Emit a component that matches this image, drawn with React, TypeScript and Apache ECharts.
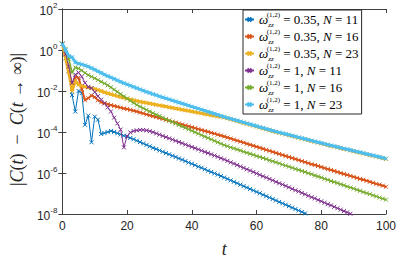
import React, { useEffect, useRef } from "react";
import * as echarts from "echarts";

// time axis samples
const times = [
  0, 1, 2, 3, 4, 5, 6, 7, 8, 9, 10, 11, 12, 13, 14, 15, 16, 17, 18, 19, 20,
  21, 22, 23, 24, 25, 26, 27, 28, 29, 30, 31, 32, 33, 34, 35, 36, 37, 38, 39, 40,
  41, 42, 43, 44, 45, 46, 47, 48, 49, 50, 51, 52, 53, 54, 55, 56, 57, 58, 59, 60,
  61, 62, 63, 64, 65, 66, 67, 68, 69, 70, 71, 72, 73, 74, 75, 76, 77, 78, 79, 80,
  81, 82, 83, 84, 85, 86, 87, 88, 89, 90, 91, 92, 93, 94, 95, 96, 97, 98, 99, 100,
];

// log10 |C(t) - C(inf)|, one value per time sample
const log10_w035_N11 = [
  0.3, -0.4, -1.0, -2.2, -3.0, -2.0, -2.1, -3.65, -3.2, -4.5, -3.25,
  -3.4, -4.1, -4.05, -4.0, -3.95, -4.0, -4.06, -4.12, -4.18, -4.23,
  -4.29, -4.35, -4.42, -4.49, -4.56, -4.63, -4.7, -4.77, -4.83, -4.9,
  -4.96, -5.03, -5.09, -5.16, -5.22, -5.29, -5.35, -5.42, -5.49, -5.55,
  -5.62, -5.69, -5.75, -5.82, -5.89, -5.95, -6.02, -6.08, -6.15, -6.22,
  -6.29, -6.36, -6.43, -6.5, -6.57, -6.64, -6.71, -6.78, -6.85, -6.92,
  -6.99, -7.06, -7.13, -7.2, -7.27, -7.34, -7.41, -7.48, -7.55, -7.62,
  -7.69, -7.76, -7.83, -7.9, -7.97, -8.04, -8.11,
];

const log10_w035_N16 = [
  0.3, -0.2, -1.0, -1.9, -1.3, -1.35, -1.9, -2.45, -2.35, -2.22, -2.3,
  -2.45, -2.55, -2.6, -2.65, -2.69, -2.73, -2.77, -2.81, -2.85, -2.88,
  -2.92, -2.96, -3.0, -3.05, -3.09, -3.14, -3.18, -3.23, -3.27, -3.32,
  -3.36, -3.41, -3.45, -3.5, -3.54, -3.59, -3.63, -3.68, -3.72, -3.77,
  -3.81, -3.86, -3.9, -3.95, -3.99, -4.04, -4.08, -4.13, -4.17, -4.22,
  -4.27, -4.32, -4.37, -4.42, -4.47, -4.52, -4.57, -4.62, -4.67, -4.72,
  -4.77, -4.82, -4.87, -4.92, -4.97, -5.02, -5.07, -5.12, -5.17, -5.22,
  -5.27, -5.32, -5.37, -5.42, -5.47, -5.52, -5.57, -5.61, -5.66, -5.71,
  -5.76, -5.81, -5.85, -5.9, -5.95, -6.0, -6.05, -6.09, -6.14, -6.19,
  -6.24, -6.29, -6.33, -6.38, -6.43, -6.48, -6.53, -6.57, -6.62, -6.67,
];

const log10_w035_N23 = [
  0.3, -0.4, -1.1, -2.0, -1.5, -1.7, -1.75, -1.8, -1.83, -1.86, -1.9,
  -1.95, -2.0, -2.06, -2.11, -2.16, -2.2, -2.25, -2.29, -2.33, -2.37,
  -2.41, -2.45, -2.49, -2.52, -2.55, -2.58, -2.61, -2.64, -2.67, -2.7,
  -2.73, -2.76, -2.79, -2.82, -2.85, -2.88, -2.91, -2.94, -2.97, -3.0,
  -3.03, -3.06, -3.09, -3.12, -3.15, -3.18, -3.21, -3.24, -3.26, -3.29,
  -3.33, -3.38, -3.42, -3.47, -3.51, -3.56, -3.6, -3.65, -3.69, -3.74,
  -3.78, -3.83, -3.87, -3.92, -3.96, -4.0, -4.04, -4.08, -4.12, -4.16,
  -4.2, -4.24, -4.28, -4.32, -4.36, -4.4, -4.44, -4.48, -4.52, -4.56,
  -4.6, -4.64, -4.68, -4.71, -4.75, -4.79, -4.83, -4.86, -4.9, -4.94,
  -4.98, -5.01, -5.05, -5.09, -5.13, -5.16, -5.2, -5.24, -5.28, -5.32,
];

const log10_w1_N11 = [
  0.3, -0.2, -0.8, -1.6, -1.2, -1.1, -1.3, -1.6, -1.8, -1.86, -2.05,
  -2.25, -2.42, -2.6, -2.8, -3.0, -3.3, -3.58, -3.88, -4.75, -4.2,
  -4.02, -3.95, -3.92, -3.9, -3.9, -3.92, -3.96, -4.01, -4.07, -4.13,
  -4.19, -4.25, -4.31, -4.37, -4.43, -4.49, -4.55, -4.61, -4.67, -4.73,
  -4.79, -4.85, -4.91, -4.97, -5.03, -5.09, -5.15, -5.21, -5.28, -5.34,
  -5.41, -5.48, -5.54, -5.61, -5.68, -5.75, -5.82, -5.88, -5.95, -6.02,
  -6.09, -6.16, -6.22, -6.29, -6.36, -6.43, -6.5, -6.56, -6.63, -6.7,
  -6.77, -6.84, -6.9, -6.97, -7.04, -7.11, -7.18, -7.24, -7.31, -7.38,
  -7.45, -7.52, -7.58, -7.65, -7.72, -7.79, -7.86, -7.92, -7.99, -8.06,
];

const log10_w1_N16 = [
  0.3, 0.05, -0.45, -1.1, -0.85, -0.9, -1.0, -1.12, -1.22, -1.3, -1.38,
  -1.46, -1.55, -1.63, -1.72, -1.82, -1.93, -2.04, -2.15, -2.26, -2.37,
  -2.47, -2.58, -2.68, -2.76, -2.84, -2.92, -3.0, -3.08, -3.15, -3.22,
  -3.3, -3.37, -3.44, -3.51, -3.58, -3.66, -3.73, -3.8, -3.87, -3.94,
  -4.01, -4.08, -4.15, -4.22, -4.29, -4.36, -4.43, -4.5, -4.57, -4.64,
  -4.69, -4.75, -4.8, -4.85, -4.9, -4.96, -5.01, -5.06, -5.11, -5.17,
  -5.22, -5.27, -5.32, -5.38, -5.43, -5.48, -5.53, -5.59, -5.64, -5.69,
  -5.74, -5.8, -5.85, -5.9, -5.95, -6.01, -6.06, -6.12, -6.17, -6.22,
  -6.28, -6.33, -6.39, -6.44, -6.49, -6.55, -6.6, -6.66, -6.71, -6.76,
  -6.82, -6.87, -6.93, -6.98, -7.03, -7.09, -7.14, -7.2, -7.25, -7.3,
];

const log10_w1_N23 = [
  0.3, 0.0, -0.3, -0.35, -0.6, -0.66, -0.7, -0.75, -0.81, -0.88, -0.96,
  -1.04, -1.12, -1.2, -1.27, -1.34, -1.41, -1.48, -1.55, -1.62, -1.68,
  -1.74, -1.8, -1.86, -1.92, -1.98, -2.04, -2.09, -2.15, -2.2, -2.26,
  -2.31, -2.36, -2.41, -2.46, -2.51, -2.56, -2.61, -2.66, -2.71, -2.76,
  -2.81, -2.86, -2.91, -2.96, -3.01, -3.06, -3.11, -3.16, -3.21, -3.26,
  -3.31, -3.35, -3.4, -3.44, -3.49, -3.53, -3.58, -3.62, -3.67, -3.71,
  -3.76, -3.8, -3.85, -3.89, -3.94, -3.98, -4.02, -4.06, -4.1, -4.14,
  -4.18, -4.22, -4.26, -4.3, -4.34, -4.38, -4.42, -4.46, -4.5, -4.54,
  -4.58, -4.62, -4.66, -4.69, -4.73, -4.77, -4.81, -4.84, -4.88, -4.92,
  -4.96, -4.99, -5.03, -5.07, -5.11, -5.14, -5.18, -5.22, -5.26, -5.3,
];

const omegaValues = ["0.35", "0.35", "0.35", "1", "1", "1"];
const nValues = ["11", "16", "23", "11", "16", "23"];
const seriesLog = [
  log10_w035_N11,
  log10_w035_N16,
  log10_w035_N23,
  log10_w1_N11,
  log10_w1_N16,
  log10_w1_N23,
];

const yTickExponents = [-8, -6, -4, -2, 0, 2];
const xTicks = [0, 20, 40, 60, 80, 100];

const COLORS = ["#0072BD", "#D95319", "#EDB120", "#7E2F8E", "#77AC30", "#4DBEEE"];
const SYMBOL_SIZES = [4, 4, 4, 4, 4, 4];
const LINE_WIDTHS = [1, 2, 3, 1, 1.5, 3];
const SERIF = "'Liberation Serif', 'DejaVu Serif', serif";
const SANS = "'Liberation Sans', Arial, Helvetica, sans-serif";
const AXIS_COLOR = "#404040";
const XMARK = "path://M0,0L10,10M10,0L0,10";

export default function App() {
  const ref = useRef<HTMLDivElement>(null);

  useEffect(() => {
    document.body.style.margin = "0";
    if (!ref.current) return;
    const chart = echarts.init(ref.current, undefined, { renderer: "svg" });

    const names = omegaValues.map(
      (w, i) => `ω_zz^(1,2) = ${w}, N = ${nValues[i]}`
    );
    const richName: Record<string, string> = {};
    names.forEach((n, i) => {
      richName[n] = `{w|ω}{sub|zz}{sup|(1,2)}{r| = ${omegaValues[i]}, }{i|N}{r| = ${nValues[i]}}`;
    });

    const series = seriesLog.map((arr, k) => ({
      name: names[k],
      type: "line",
      data: arr.map((e, j) => [times[j], Math.pow(10, e)]),
      showSymbol: true,
      symbol: XMARK,
      symbolSize: SYMBOL_SIZES[k],
      lineStyle: { color: COLORS[k], width: LINE_WIDTHS[k] },
      itemStyle: { color: COLORS[k], borderColor: COLORS[k], borderWidth: 1 },
      clip: true,
      z: 2 + k,
    }));

    const axisLineStyle = { color: AXIS_COLOR, width: 1 };

    chart.setOption({
      animation: false,
      backgroundColor: "#ffffff",
      grid: { left: 53, right: 12, top: 9, bottom: 37, containLabel: false },
      legend: {
        orient: "vertical",
        left: 243,
        top: 10,
        backgroundColor: "#ffffff",
        borderColor: "#262626",
        borderWidth: 1,
        borderRadius: 0,
        padding: [1, 3, 1, 1],
        itemGap: 0,
        itemWidth: 9,
        itemHeight: 5,
        data: names,
        formatter: (n: string) => richName[n] || n,
        textStyle: {
          color: "#000",
          fontFamily: SERIF,
          fontSize: 13,
          lineHeight: 17,
          rich: {
            w: { fontFamily: SERIF, fontStyle: "italic", fontSize: 13, lineHeight: 17, color: "#000" },
            sub: { fontFamily: SERIF, fontStyle: "italic", fontSize: 7, lineHeight: 7, verticalAlign: "bottom", color: "#000" },
            sup: { fontFamily: SERIF, fontSize: 7, lineHeight: 7, verticalAlign: "top", color: "#000", padding: [0, 0, 0, -7] },
            r: { fontFamily: SERIF, fontSize: 13, lineHeight: 17, color: "#000" },
            i: { fontFamily: SERIF, fontStyle: "italic", fontSize: 13, lineHeight: 17, color: "#000" },
          },
        },
      },
      xAxis: [
        {
          type: "value",
          min: xTicks[0],
          max: xTicks[xTicks.length - 1],
          interval: 20,
          position: "bottom",
          axisLine: { show: true, lineStyle: axisLineStyle },
          axisTick: { show: true, inside: true, length: 4, lineStyle: axisLineStyle },
          splitLine: { show: false },
          axisLabel: { color: "#262626", fontFamily: SANS, fontSize: 12, margin: 6 },
          name: "t",
          nameLocation: "middle",
          nameGap: 26,
          nameTextStyle: { fontFamily: SERIF, fontStyle: "italic", fontSize: 18, color: "#262626" },
        },
        {
          type: "value",
          min: xTicks[0],
          max: xTicks[xTicks.length - 1],
          interval: 20,
          position: "top",
          axisLine: { show: true, lineStyle: axisLineStyle },
          axisTick: { show: true, inside: true, length: 4, lineStyle: axisLineStyle },
          splitLine: { show: false },
          axisLabel: { show: false },
        },
      ],
      yAxis: [
        {
          type: "log",
          logBase: 10,
          min: Math.pow(10, yTickExponents[0]),
          max: Math.pow(10, yTickExponents[yTickExponents.length - 1]),
          interval: 2,
          position: "left",
          axisLine: { show: true, lineStyle: axisLineStyle },
          axisTick: { show: true, inside: true, length: 4, lineStyle: axisLineStyle },
          minorTick: { show: false },
          splitLine: { show: false },
          axisLabel: {
            margin: 5,
            formatter: (v: number) => `{b|10}{s|${Math.round(Math.log10(v))}}`,
            rich: {
              b: { fontFamily: SANS, fontSize: 12, color: "#262626", lineHeight: 16, verticalAlign: "bottom" },
              s: { fontFamily: SANS, fontSize: 8, color: "#262626", lineHeight: 8, verticalAlign: "top" },
            },
          },
          name: "{p||}{i|C}{p|(}{i|t}{p|)  −  }{i|C}{p|(}{i|t}{p| → ∞)|}{gap| }",
          nameLocation: "middle",
          nameGap: 36,
          nameRotate: 90,
          nameTextStyle: {
            color: "#262626",
            fontSize: 18,
            fontFamily: SERIF,
            rich: {
              p: { fontFamily: SERIF, fontSize: 18, color: "#262626" },
              i: { fontFamily: SERIF, fontSize: 18, fontStyle: "italic", color: "#262626" },
              gap: { fontFamily: SERIF, fontSize: 18, width: 16 },
            },
          },
        },
        {
          type: "log",
          logBase: 10,
          min: Math.pow(10, yTickExponents[0]),
          max: Math.pow(10, yTickExponents[yTickExponents.length - 1]),
          interval: 2,
          position: "right",
          axisLine: { show: true, lineStyle: axisLineStyle },
          axisTick: { show: true, inside: true, length: 4, lineStyle: axisLineStyle },
          minorTick: { show: false },
          splitLine: { show: false },
          axisLabel: { show: false },
        },
      ],
      series,
    });

    return () => chart.dispose();
  }, []);

  return <div ref={ref} style={{ width: 399, height: 263 }} />;
}
